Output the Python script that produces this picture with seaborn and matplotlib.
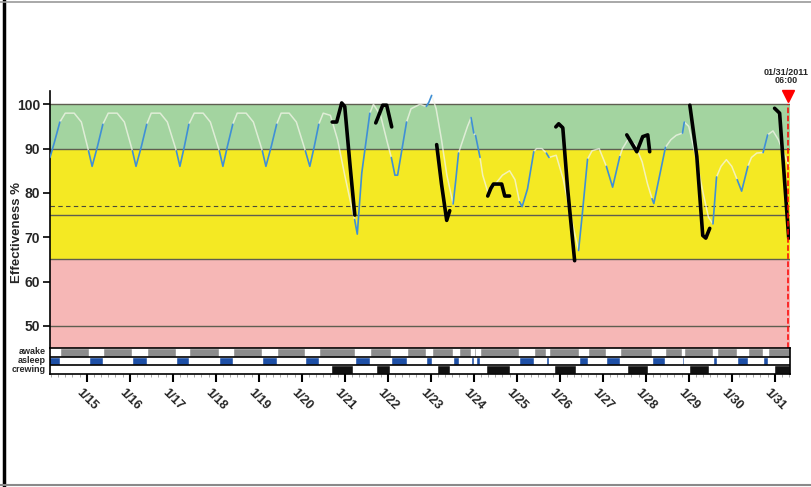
import pandas as pd
import seaborn as sns
import matplotlib.pyplot as plt
from matplotlib.lines import Line2D
from matplotlib.ticker import MultipleLocator

sns.set_theme(style='ticks')
plt.rcParams['font.family'] = ['Liberation Sans', 'DejaVu Sans']

# hours counted from 1/14 00:00
eff_hours = [3.5, 6, 9, 12, 17, 21, 25, 27, 30, 33, 36, 41, 45, 49.5, 51.5, 54.5, 57.5,
             60, 65, 69, 74, 76, 78.5, 81, 84, 89, 93, 98, 100, 102.5, 105.5, 108, 113,
             117, 122, 124, 127, 130, 132.5, 137, 141, 146, 148.5, 151, 153.5, 156, 160,
             164, 168, 172, 173.5, 175, 177.5, 182, 184, 188, 192, 194, 196, 197.5, 202.5,
             205, 210, 213.5, 215, 216.5, 219, 222, 225, 228.5, 230, 231.5, 234, 236.5,
             238.5, 240, 241, 243.5, 245, 248, 252, 256, 260, 263, 265.5, 267, 270, 273.5,
             275, 278, 280.5, 282, 286, 290, 294, 298.5, 300.5, 303.5, 306, 310, 314,
             317.5, 321.5, 323, 326, 330, 334, 337, 339.5, 340.5, 347, 350, 353, 356.5,
             357.5, 360, 364, 368, 371, 373.5, 375.5, 378, 381, 384, 387, 389.5, 393, 395,
             398, 401.5, 404, 407, 410, 413, 416]
eff_values = [88, 91.5, 96, 98, 98, 96, 89.5, 86, 90.5, 95.5, 98, 98, 96, 89.5, 86, 90.5, 95.5,
              98, 98, 96, 89.5, 86, 90.5, 95.5, 98, 98, 96, 89.5, 86, 90.5, 95.5, 98, 98,
              96, 89.5, 86, 90.5, 95.5, 98, 98, 96, 89.5, 86, 90.5, 95.5, 98, 97.5,
              92, 84, 76.5, 74, 70.7, 84.5, 98, 100, 97.5, 91, 88, 84, 84, 96,
              99, 100, 99.5, 100.5, 102, 99, 92, 84, 77.5, 83, 89, 92, 95,
              97, 93.5, 93, 88, 84, 80, 82, 84, 85, 83, 78, 76.9, 80.9, 89.3,
              90, 90, 89, 88, 88.5, 83, 75, 67, 74.9, 87.6, 89.5, 90, 86,
              81.3, 88.2, 90, 92, 91, 87, 82, 78.7, 77.6, 90.3, 92, 93, 93.5,
              96, 95, 88, 80, 74.5, 73, 83.6, 86, 87.5, 86, 83, 80.4, 86, 88,
              89, 89.1, 93.1, 94, 92, 89, 86]

sleep_spans = [(0, 9), (25, 33), (49.5, 57.5), (74, 81), (98, 105.5), (122, 130),
               (146, 153.5), (173.5, 182), (194, 202.5), (213.5, 216.5), (228.5, 231.5),
               (238.5, 240), (241, 243.5), (265.5, 273.5), (280.5, 282), (298.5, 303.5),
               (314, 321.5), (339.5, 347), (356.5, 357.5), (373.5, 375.5), (387, 393),
               (401.5, 404)]
crew_spans = [(160.5, 172.5), (185.5, 193), (219.5, 227), (247, 260), (285, 297),
              (325.5, 337), (360, 371.5), (407.5, 416.5)]

# hand drawn pen strokes over the duty periods
pen_hours = [[161, 163.5, 166.3, 168, 171, 173.6],
             [185.3, 186.5, 189.2, 191.4, 194.2],
             [219.3, 222, 224.9, 226.6],
             [247.8, 249.5, 251, 255.6, 257.3, 260],
             [285.8, 287.4, 289.7, 292.4, 296.3],
             [325.4, 331, 334.3, 337.1, 338.2],
             [360.6, 364.5, 367.8, 369.5, 371.7],
             [407.9, 410.7, 413, 415.8]]
pen_values = [[96, 96, 100.3, 99.5, 86, 75],
              [95.8, 97, 99.8, 99.8, 94.9],
              [90.9, 82, 73.8, 76],
              [79.3, 81, 82, 82, 79.3, 79.3],
              [94.9, 95.6, 94.7, 80.9, 64.7],
              [93.1, 89.3, 92.7, 93.1, 89.3],
              [99.8, 88.2, 70.4, 69.8, 72],
              [99.1, 98, 85.3, 69.8]]

day_ticks = [24, 48, 72, 96, 120, 144, 168, 192, 216, 240, 264, 288, 312, 336, 360, 384, 408]
day_labels = ['1/15', '1/16', '1/17', '1/18', '1/19', '1/20', '1/21', '1/22', '1/23',
              '1/24', '1/25', '1/26', '1/27', '1/28', '1/29', '1/30', '1/31']
now_hour = 415.5
now_label = '01/31/2011\n06:00'
row_labels = ['awake', 'asleep', 'crewing']


def in_sleep(h):
    return any(a <= h <= b for a, b in sleep_spans)


# split the curve into asleep / awake runs
rows = []
run = 0
prev = None
for i in range(len(eff_hours) - 1):
    mid = (eff_hours[i] + eff_hours[i + 1]) / 2
    phase = 'asleep' if in_sleep(mid) else 'awake'
    if phase != prev:
        run += 1
        prev = phase
        rows.append((run, phase, eff_hours[i], eff_values[i]))
    rows.append((run, phase, eff_hours[i + 1], eff_values[i + 1]))
curve = pd.DataFrame(rows, columns=['run', 'phase', 'hour', 'eff'])

pen_rows = []
for k, (hs, vs) in enumerate(zip(pen_hours, pen_values)):
    for h, v in zip(hs, vs):
        pen_rows.append((k, h, v))
pen = pd.DataFrame(pen_rows, columns=['stroke', 'hour', 'eff'])

fig = plt.figure(figsize=(8.12, 4.87), dpi=100)
ax = fig.add_axes([50 / 812, 139 / 487, 740 / 812, 257 / 487])
st = fig.add_axes([50 / 812, 113 / 487, 740 / 812, 26 / 487], sharex=ax)

ax.axhspan(90, 100, color='#a3d4a0', zorder=0, lw=0)
ax.axhspan(65, 90, color='#f4e923', zorder=0, lw=0)
ax.axhspan(45, 65, color='#f6b7b6', zorder=0, lw=0)
for y in [100, 90, 75, 65, 50]:
    ax.axhline(y, color='#5e5e50', lw=1.0, zorder=1)
ax.axhline(77, color='#4a4a3a', lw=0.8, ls=(0, (4, 3)), zorder=1)

# awake part of the curve is printed very pale, the sleep part in blue
awake = curve[curve['phase'] == 'awake']
asleep = curve[curve['phase'] == 'asleep']
sns.lineplot(data=awake, x='hour', y='eff', units='run', estimator=None, sort=False,
             color='#f4f6ea', alpha=0.75, lw=1.1, legend=False, ax=ax, zorder=3)
sns.lineplot(data=asleep, x='hour', y='eff', units='run', estimator=None, sort=False,
             color='#3f8fd6', lw=1.2, legend=False, ax=ax, zorder=3)
sns.lineplot(data=pen, x='hour', y='eff', units='stroke', estimator=None, sort=False,
             color='black', lw=2.6, legend=False, ax=ax, zorder=4)

ax.plot([now_hour, now_hour], [45, 100], color='red', ls='--', lw=1.1, zorder=5)
ax.plot([now_hour], [101.8], marker='v', color='red', ms=8, clip_on=False, zorder=6)
ax.text(now_hour - 1, 104.3, now_label, ha='center', va='bottom', fontsize=6.5,
        fontweight='bold', linespacing=0.85, clip_on=False)

ax.set_xlim(3.5, 416.5)
ax.set_ylim(45, 103)
ax.set_yticks([50, 60, 70, 80, 90, 100])
ax.set_yticklabels(['50', '60', '70', '80', '90', '100'], fontsize=10, fontweight='bold')
ax.tick_params(axis='y', length=5, width=1.2, color='black', pad=2, left=True)
ax.tick_params(axis='x', bottom=False, labelbottom=False)
ax.set_xlabel('')
ax.set_ylabel('Effectiveness %', fontsize=9.5, fontweight='bold')
ax.yaxis.set_label_coords(-0.036, 0.45)
for s in ['top', 'right', 'bottom']:
    ax.spines[s].set_visible(False)
ax.spines['left'].set_color('black')
ax.spines['left'].set_linewidth(1.2)
ax.set_facecolor('white')

# status rows: awake (top), asleep, crewing (bottom)
st.set_ylim(0, 3)
st.broken_barh([(3.5, 413)], (2, 1), facecolors='#8c8c8c')
st.broken_barh([(a, b - a) for a, b in sleep_spans], (2, 1), facecolors='white')
st.broken_barh([(a, b - a) for a, b in sleep_spans], (1, 1), facecolors='#1d4fa6')
st.broken_barh([(a, b - a) for a, b in crew_spans], (0, 1), facecolors='#111111')
for y in [1, 2]:
    st.axhline(y, color='black', lw=1.2)
for s in st.spines.values():
    s.set_color('black')
    s.set_linewidth(1.2)
st.set_yticks([])
st.set_xticks(day_ticks)
st.set_xticklabels(day_labels, rotation=-45, ha='center', va='top', fontsize=9,
                   fontweight='bold')
st.xaxis.set_minor_locator(MultipleLocator(4))
st.tick_params(axis='x', which='major', length=6, width=1.5, color='black', pad=3, bottom=True)
st.tick_params(axis='x', which='minor', length=2, width=0.6, color='#999999', bottom=True)
st.set_xlabel('')

for lab, ypx in zip(row_labels, [352, 360.5, 369.5]):
    fig.text(46 / 812, 1 - ypx / 487, lab, ha='right', va='center', fontsize=6.5,
             fontweight='bold')

# scanned page edges
fig.add_artist(Line2D([4.5 / 812, 4.5 / 812], [0, 1], transform=fig.transFigure,
                      color='black', lw=2.5))
fig.add_artist(Line2D([0, 1], [1 - 2 / 487, 1 - 2 / 487], transform=fig.transFigure,
                      color='#9a9a9a', lw=1.2))
fig.add_artist(Line2D([0, 1], [2 / 487, 2 / 487], transform=fig.transFigure,
                      color='#8a8a8a', lw=1.5))

fig.savefig('out.png', dpi=100)
